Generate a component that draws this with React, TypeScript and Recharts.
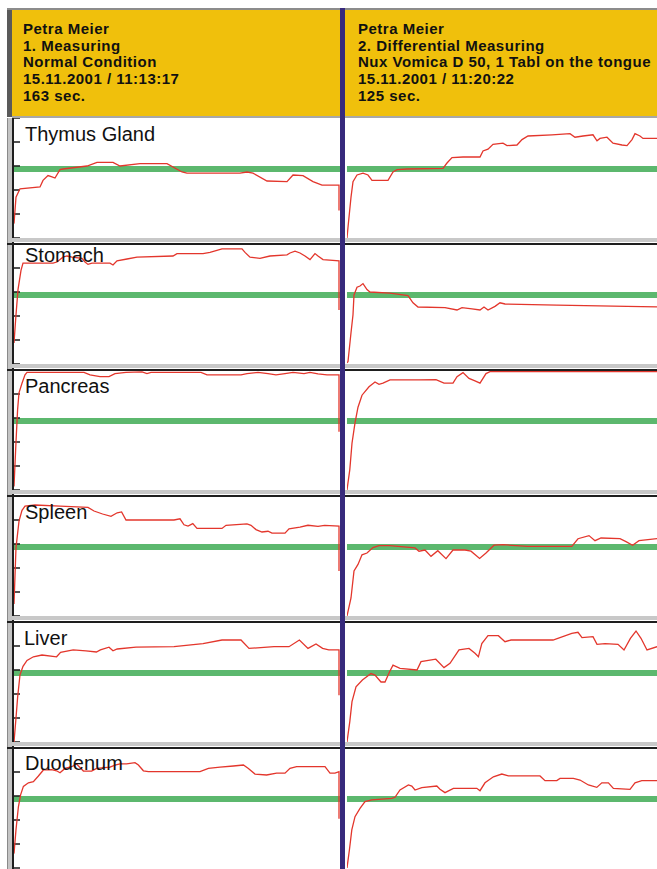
import { LineChart, Line, XAxis, YAxis, ReferenceLine } from 'recharts';

type Pt = [number, number];

// seconds into the measuring, reading in % of the panel scale
const organs = ['Thymus Gland', 'Stomach', 'Pancreas', 'Spleen', 'Liver', 'Duodenum'];

const headerFirst = ['Petra Meier', '1. Measuring', 'Normal Condition', '15.11.2001 / 11:13:17', '163 sec.'];
const headerSecond = [
  'Petra Meier',
  '2. Differential Measuring',
  'Nux Vomica D 50, 1 Tabl on the tongue',
  '15.11.2001 / 11:20:22',
  '125 sec.',
];

const yTicks = [0, 20, 40, 60, 80, 100];
const normalLevel = 57.5;

const thymus1: Pt[] = [[0, 12], [1, 34], [3, 41], [13, 42.5], [14.5, 48], [17, 52], [19, 51], [20.5, 50], [23, 57], [24.5, 57.5], [36.5, 60], [41.5, 63], [49.5, 63], [53, 60], [63, 62], [76.5, 62], [84, 55], [86.5, 54], [113, 54], [116.5, 55], [119.5, 54], [126.5, 47.5], [136.5, 47], [139.5, 52.5], [144.5, 52], [149.5, 47], [154, 44], [162.5, 44], [162.5, 23]];
const thymus2: Pt[] = [[0, 0], [0.5, 9], [2, 34], [3, 47], [5, 52.5], [8, 54], [10.5, 52.5], [12.5, 48], [20.5, 48], [23, 55], [25, 57], [30, 57.5], [48, 58], [50, 62.5], [52.5, 67], [58, 67.5], [66.5, 67.5], [68, 72.5], [70.5, 74], [73, 78], [78, 79], [80, 77], [85, 77.5], [87.5, 82], [90.5, 85], [102.5, 86], [111.5, 87], [114, 84], [118, 85], [123, 86], [125, 81], [126.5, 83], [130, 84], [133, 79], [137.5, 77.5], [140, 77], [142.5, 82], [144, 87], [146.5, 85], [148, 83], [160, 83]];

const stomach1: Pt[] = [[0, 17.5], [1, 41], [2, 62], [3.5, 78], [4.5, 84], [19.5, 84], [21.5, 85], [23, 87], [24.5, 89], [26.5, 90], [29, 89], [34, 88], [35.5, 85], [37, 83], [39, 84], [48, 84], [49.5, 82.5], [51.5, 86], [56.5, 87.5], [61.5, 89], [79.5, 90], [81.5, 92], [94.5, 92], [98, 93], [104, 96], [114, 96], [115.5, 93], [118, 89], [123, 88], [128, 90], [136.5, 91], [138, 92.5], [140.5, 94], [143, 92.5], [145.5, 90], [148, 87], [150.5, 92], [152, 90], [154.5, 87], [162.5, 86], [162.5, 45]];
const stomach2: Pt[] = [[0, 1], [0.5, 2], [2, 26], [3, 41], [3.5, 57.5], [5, 64], [6.5, 65], [8, 67], [10, 62], [11.5, 60], [21.5, 59], [30.5, 57], [33, 51], [35.5, 47.5], [49, 47], [55, 45], [57.5, 47], [62.5, 46], [66.5, 45], [68.5, 47.5], [70.5, 45], [74, 48], [76.5, 51], [79, 50], [105, 49], [140, 48], [160, 47.5]];

const pancreas1: Pt[] = [[0, 3], [1, 40], [1.8, 67], [2.5, 81], [4, 89], [5.5, 96], [6.5, 98], [35, 98], [38, 96], [43, 94.5], [47.5, 94.5], [50.5, 97], [56, 98], [64, 98.5], [66.5, 97], [68.5, 98], [93.5, 98], [96.5, 96], [113.5, 96], [116.5, 97], [122, 98], [127, 97], [131, 96], [135.5, 97], [139.5, 98], [145, 97], [148, 98], [152, 96.7], [156.5, 96], [162.5, 96], [162.5, 48.5]];
const pancreas2: Pt[] = [[0, 0], [1.4, 17], [2.5, 39], [4, 56], [5.5, 69], [7.5, 79], [11, 86], [14, 90], [16, 88], [18, 89], [21.5, 91.7], [36, 91.7], [44.5, 92], [48.5, 89], [53, 89], [55, 94.5], [58, 97.8], [61, 93], [64, 91], [66.5, 89], [69.5, 97], [71.5, 98.6], [160, 98.6]];

const spleen1: Pt[] = [[0, 10], [1, 57], [2.5, 79], [4, 88], [5.5, 91.5], [10.5, 92.5], [23, 91.5], [37, 90.5], [40, 87.5], [44.3, 85], [48.5, 83], [51.6, 86], [53.8, 86.7], [56, 80], [80, 80], [83, 81], [85, 76], [87, 75], [89.4, 77], [91.5, 73], [104, 73], [106, 75.6], [116.5, 76.7], [118.5, 75.6], [121, 72], [124, 70], [127, 70.6], [129, 69], [135.5, 69], [137.5, 72.7], [143, 74], [147, 75.6], [152, 74.7], [155.3, 75.6], [162.5, 75], [162.5, 37.5]];
const spleen2: Pt[] = [[0, 0], [2, 15], [3.5, 37.5], [5.5, 43], [7.5, 51], [10, 52.5], [13, 57], [16, 58.6], [21.3, 58.6], [34, 56.7], [36, 54], [39, 55], [42, 49.7], [45.4, 54.4], [49.5, 47.8], [53, 55], [59, 55], [62, 54], [66.3, 48], [69.5, 52.5], [73.5, 59], [78, 59.4], [90.4, 58], [112.4, 58], [115.5, 64.4], [121, 67], [124, 62.8], [127, 65], [136.5, 64.4], [139.5, 62], [142.8, 59], [146, 62.8], [155, 64.4], [160, 64.4]];

const liver1: Pt[] = [[0, 0], [1, 20], [1.8, 37], [3, 56], [4.5, 63], [6.5, 68], [9.7, 71], [14, 72.5], [21.3, 71], [23.3, 74.7], [29.6, 76.7], [36, 76], [41.2, 75], [43.2, 76.7], [47.5, 79], [49.5, 76], [51.6, 77.5], [61, 79], [80, 79.4], [94.5, 82], [104, 85], [113.5, 85], [117.5, 78], [130, 79.4], [137.5, 79.4], [142.7, 85], [147, 78], [151, 81.7], [154.3, 78], [157.4, 76.7], [162.5, 76.7], [162.5, 39]];
const liver2: Pt[] = [[0, 0], [1.4, 17], [2.5, 33.6], [4.5, 46], [7.7, 51.7], [12, 57], [14, 55.8], [17, 50], [19, 50], [21.3, 58.6], [23, 64], [26.5, 61.4], [35, 60], [37, 67], [44.4, 69], [48.5, 62], [51.5, 65.6], [56, 76.7], [61, 78], [64, 74], [65.7, 71], [67.4, 82], [70.5, 88.6], [75.7, 88.6], [79, 83.6], [82, 85], [103, 85], [112.4, 90.6], [115.5, 91.4], [117.5, 87], [123, 87.8], [125, 81.4], [129, 82], [135.5, 81.4], [138.5, 76.7], [141.7, 86.4], [144.5, 92.5], [147, 86.4], [150, 76.7], [155, 79.4], [160, 81]];

const duodenum1: Pt[] = [[0, 12], [1, 32], [2.2, 51], [3.3, 61], [4.7, 68], [7.2, 71], [9.7, 72], [12.2, 76.7], [14.7, 81.7], [18.8, 82], [21.3, 81], [23, 79.4], [25.5, 83], [28.8, 84.4], [31.3, 86.7], [34.7, 80.8], [38.8, 80.8], [41.3, 83], [48, 84], [50.5, 85.8], [53, 86.7], [56.3, 86.7], [60.5, 87.8], [62.2, 85.8], [64.7, 81], [67.2, 80.3], [93, 80.3], [97.2, 83], [103, 84], [109.7, 85], [114.7, 85.8], [117.2, 83], [120.5, 78.3], [126.3, 77.5], [131.3, 79], [135.5, 79], [138, 83], [141.3, 84.4], [155.5, 84.4], [158, 79], [160.5, 79], [162.5, 80.3], [162.5, 41]];
const duodenum2: Pt[] = [[0, 0], [1.2, 15], [2.4, 31.7], [4, 42.8], [6.5, 49.7], [9, 55.3], [12.4, 56.7], [22.4, 58], [24, 58.9], [26.5, 65], [30.7, 69.2], [32.4, 68.3], [34, 65], [37.4, 66.9], [44.9, 68.3], [46.5, 65.6], [49, 62.8], [53.2, 66.4], [64.9, 66.4], [66.5, 64.4], [69, 71], [73.2, 76], [77.4, 78.3], [80.7, 76.7], [96.5, 76.7], [99, 72.8], [104.9, 72.8], [106.5, 74.7], [113.2, 74.7], [116.5, 73.3], [120.7, 69.2], [124.9, 67.2], [127.4, 71], [130.7, 71], [133.2, 66.4], [141.5, 65.6], [144, 71], [147.4, 72.8], [160, 72.8]];

const firstRun = [thymus1, stomach1, pancreas1, spleen1, liver1, duodenum1];
const secondRun = [thymus2, stomach2, pancreas2, spleen2, liver2, duodenum2];

// layout
const ROW_TOP = 117;
const ROW_H = 126;
const labelDy = [7, 2, 7, 7, 7, 6];
const FONT = '"Liberation Sans", Arial, sans-serif';

function Trace({ points, left, width, span, withAxis, marginRight }: {
  points: Pt[]; left: number; width: number; span: number; withAxis: boolean; marginRight: number;
}) {
  const data = points.map(([t, v]) => ({ t, v }));
  return (
    <div style={{ position: 'absolute', left, top: 0 }}>
      <LineChart width={width} height={121} data={data} margin={{ top: 0, right: marginRight, bottom: 1, left: 2 }}>
        <XAxis type="number" dataKey="t" domain={[0, span]} hide allowDataOverflow />
        <YAxis type="number" domain={[0, 100]} hide allowDataOverflow />
        <ReferenceLine y={normalLevel} stroke="#5cb86e" strokeWidth={6} />
        {withAxis &&
          yTicks.map((v) => (
            <ReferenceLine
              key={v}
              segment={[{ x: 0, y: v }, { x: 3, y: v }]}
              stroke="#1a1a1a"
              strokeWidth={1.5}
              ifOverflow="visible"
            />
          ))}
        <Line dataKey="v" type="linear" stroke="#e3362c" strokeWidth={1.3} dot={false} isAnimationActive={false} />
      </LineChart>
    </div>
  );
}

function HeaderText({ lines, left }: { lines: string[]; left: number }) {
  return (
    <div style={{ position: 'absolute', left, top: 21, fontFamily: FONT, fontWeight: 700, fontSize: 15, lineHeight: '16.7px', letterSpacing: 0.5, color: '#111', whiteSpace: 'nowrap' }}>
      {lines.map((l) => (
        <div key={l}>{l}</div>
      ))}
    </div>
  );
}

export default function App() {
  return (
    <div style={{ position: 'fixed', left: 0, top: 0, width: 657, height: 869, overflow: 'hidden', background: '#fff' }}>
      {/* header */}
      <div style={{ position: 'absolute', left: 7, top: 8, width: 650, height: 2, background: '#8c8c8c' }} />
      <div style={{ position: 'absolute', left: 7, top: 10, width: 5, height: 107, background: '#5a5a5a' }} />
      <div style={{ position: 'absolute', left: 12, top: 10, width: 645, height: 106, background: '#f0c00c' }} />
      <div style={{ position: 'absolute', left: 12, top: 116, width: 645, height: 2, background: '#a8a8a8' }} />
      <HeaderText lines={headerFirst} left={23} />
      <HeaderText lines={headerSecond} left={358} />

      {/* left frame */}
      <div style={{ position: 'absolute', left: 7, top: 118, width: 5, height: 751, background: '#c4c4c4', borderLeft: '1px solid #8a8a8a', boxSizing: 'border-box' }} />
      <div style={{ position: 'absolute', left: 12, top: 118, width: 2, height: 751, background: '#1e1e1e' }} />

      {organs.map((name, i) => {
        const top = ROW_TOP + ROW_H * i;
        return (
          <div key={name}>
            {i > 0 && (
              <>
                <div style={{ position: 'absolute', left: 12, top: top - 5, width: 645, height: 4, background: '#c8c8c8' }} />
                <div style={{ position: 'absolute', left: 7, top, width: 650, height: 2, background: '#1e1e1e' }} />
              </>
            )}
            <div style={{ position: 'absolute', left: 0, top: top + 1, width: 657, height: 121 }}>
              <Trace points={firstRun[i]} left={12} width={328} span={163} withAxis marginRight={0} />
              <Trace points={secondRun[i]} left={345} width={324} span={160} withAxis={false} marginRight={2} />
            </div>
            <div style={{ position: 'absolute', left: name === 'Liver' ? 24 : 25, top: top + labelDy[i], fontFamily: FONT, fontSize: 20, lineHeight: '20px', color: '#111', whiteSpace: 'nowrap' }}>
              {name}
            </div>
          </div>
        );
      })}

      {/* divider between the two measurings */}
      <div style={{ position: 'absolute', left: 340, top: 8, width: 5, height: 861, background: '#372a7c' }} />
    </div>
  );
}
